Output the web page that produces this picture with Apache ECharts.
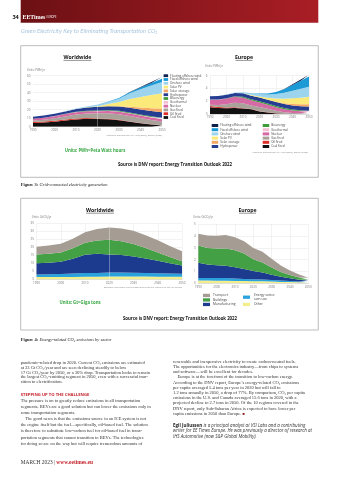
<!DOCTYPE html>
<html><head><meta charset="utf-8">
<script src="https://cdn.jsdelivr.net/npm/echarts@6.0.0/dist/echarts.min.js"></script>
<style>html,body{margin:0;padding:0;background:#fff}#c{width:339px;height:480px}</style>
</head><body><div id="c"></div>
<script>
// ---------- DATA ----------
const years = ['1990','1995','2000','2005','2010','2015','2020','2025','2030','2035','2040','2045','2050'];

// Figure 3 – Worldwide grid-connected electricity generation (PWh/yr)
const wwCoal     = [4.3,4.9,5.9,7.3,8.6,9.3,9.0,8.8,7.6,5.8,4.0,2.6,1.6];
const wwOil      = [1.3,1.3,1.2,1.1,1.0,0.9,0.7,0.6,0.5,0.4,0.3,0.2,0.2];
const wwGas      = [1.7,2.0,2.7,3.6,4.8,5.4,6.0,6.4,6.6,6.4,5.8,5.0,4.2];
const wwNuclear  = [2.0,2.3,2.6,2.8,2.7,2.5,2.6,2.8,2.9,3.0,3.0,3.0,2.9];
const wwGeo      = [0.04,0.04,0.05,0.06,0.07,0.08,0.09,0.12,0.2,0.3,0.4,0.5,0.6];
const wwBio      = [0.1,0.12,0.15,0.25,0.35,0.5,0.65,0.75,0.85,0.95,1.0,1.05,1.1];
const wwHydro    = [2.2,2.4,2.6,2.9,3.4,3.9,4.3,4.6,5.0,5.4,5.8,6.1,6.4];
const wwSolarSt  = [0,0,0,0,0,0,0,0.1,0.5,1.2,2.2,3.3,4.5];
const wwSolar    = [0,0,0,0,0.03,0.25,0.85,2.5,4.8,9.0,12.5,15.5,18];
const wwOnshore  = [0,0,0.03,0.1,0.34,0.8,1.4,2.6,4.0,6.8,9.0,11.2,13];
const wwFixed    = [0,0,0,0,0.01,0.04,0.12,0.3,0.7,1.3,2.1,3.0,4.0];
const wwFloating = [0,0,0,0,0,0,0,0,0.05,0.2,0.6,1.2,2.0];

// Figure 3 – Europe (PWh/yr)
const euCoal     = [1.05,0.95,0.9,0.95,0.85,0.75,0.4,0.25,0.08,0.02,0,0,0];
const euOil      = [0.2,0.15,0.12,0.1,0.07,0.05,0.04,0.03,0.02,0.01,0,0,0];
const euGas      = [0.2,0.3,0.5,0.7,0.75,0.55,0.65,0.55,0.4,0.25,0.15,0.1,0.08];
const euNuclear  = [0.8,0.85,0.9,0.95,0.88,0.8,0.7,0.6,0.55,0.45,0.38,0.32,0.28];
const euGeo      = [0.003,0.004,0.005,0.006,0.006,0.007,0.007,0.01,0.015,0.02,0.03,0.04,0.05];
const euBio      = [0.02,0.03,0.05,0.08,0.13,0.17,0.19,0.2,0.2,0.18,0.15,0.12,0.1];
const euHydro    = [0.5,0.52,0.55,0.5,0.56,0.55,0.6,0.6,0.62,0.63,0.64,0.65,0.65];
const euSolarSt  = [0,0,0,0,0,0,0,0.01,0.05,0.12,0.2,0.28,0.35];
const euSolar    = [0,0,0,0,0.02,0.1,0.17,0.3,0.5,0.7,0.9,1.05,1.2];
const euOnshore  = [0,0.004,0.02,0.07,0.15,0.25,0.36,0.5,0.7,0.95,1.2,1.4,1.55];
const euFixed    = [0,0,0,0,0.01,0.04,0.08,0.15,0.3,0.55,0.9,1.25,1.6];
const euFloating = [0,0,0,0,0,0,0,0,0.01,0.04,0.1,0.2,0.3];

// Figure 4 – Worldwide energy-related CO2 by sector (Gt/yr)
const wwOther     = [1.5,1.5,1.6,1.6,1.7,1.7,1.8,1.8,1.8,1.8,1.7,1.7,1.7];
const wwEnergy    = [1.7,1.8,1.9,2.1,2.3,2.4,2.5,2.5,2.4,2.3,2.2,2.0,1.9];
const wwManuf     = [6.9,7.2,7.6,9.3,11.5,12.0,11.4,11.0,10.2,9.0,7.8,6.5,5.2];
const wwBuildings = [5.6,5.6,5.7,6.5,7.5,8.3,9.2,8.6,7.8,6.6,5.2,3.8,2.6];
const wwTransport = [4.8,5.2,5.6,6.0,6.6,7.2,7.6,8.0,8.2,8.0,7.6,7.0,6.2];

// Figure 4 – Europe (Gt/yr)
const euOther     = [0.23,0.23,0.22,0.22,0.2,0.19,0.18,0.17,0.15,0.12,0.1,0.08,0.06];
const euEnergy    = [0.22,0.22,0.22,0.22,0.2,0.18,0.16,0.15,0.13,0.11,0.09,0.07,0.05];
const euManuf     = [1.3,1.15,1.1,1.05,0.95,0.85,0.7,0.6,0.45,0.33,0.24,0.16,0.1];
const euBuildings = [1.45,1.4,1.4,1.45,1.45,1.3,1.0,0.85,0.6,0.4,0.28,0.18,0.1];
const euTransport = [1.0,1.05,1.1,1.15,1.1,1.05,0.95,0.9,0.75,0.55,0.38,0.25,0.15];

// Legend names
const genNames = ['Floating offshore wind','Fixed offshore wind','Onshore wind','Solar PV','Solar+storage','Hydropower',
                  'Bioenergy','Geothermal','Nuclear','Gas fired','Oil fired','Coal fired'];
const secNames = ['Transport','Buildings','Manufacturing','Energy sector own use','Other'];

// Body text
const leftCol1 = [
 'pandemic-related drop in 2020. Current CO₂ emissions are estimated',
 'at 33 Gt CO₂/year and are seen declining steadily to below',
 '17 Gt CO₂/year by 2050, or a 36% drop. Transportation looks to remain',
 'the largest CO₂-emitting segment in 2050, even with a successful tran-',
 'sition to electrification.'];
const leftCol2 = [
 'The pressure is on to greatly reduce emissions in all transportation',
 'segments. BEVs are a good solution but can lower the emissions only in',
 'some transportation segments.',
 '    The good news is that the emissions source in an ICE system is not',
 'the engine itself but the fuel—specifically, oil-based fuel. The solution',
 'is therefore to substitute low-carbon fuel for oil-based fuel in trans-',
 'portation segments that cannot transition to BEVs. The technologies',
 'for doing so are on the way but will require tremendous amounts of'];
const rightCol1 = [
 'renewable and inexpensive electricity to create carbon-neutral fuels.',
 'The opportunities for the electronics industry—from chips to systems',
 'and software—will be excellent for decades.',
 '    Europe is at the forefront of the transition to low-carbon energy.',
 'According to the DNV report, Europe’s energy-related CO₂ emissions',
 'per capita averaged 5.4 tons per year in 2020 but will fall to',
 '1.2 tons annually in 2050, a drop of 77%. By comparison, CO₂ per capita',
 'emissions in the U.S. and Canada averaged 15.6 tons in 2020, with a',
 'projected decline to 2.7 tons in 2050. Of the 10 regions covered in the',
 'DNV report, only Sub-Saharan Africa is expected to have lower per',
 'capita emissions in 2050 than Europe. {m|■}'];
const bioLines = [
 '{b|Egil Juliussen} {i|is a principal analyst at VSI Labs and a contributing}',
 '{i|writer for EE Times Europe. He was previously a director of research at}',
 '{i|IHS Automotive (now S&P Global Mobility).}'];

// ---------- STYLE ----------
const genColors = {
 'Floating offshore wind':'#0e1f4d','Fixed offshore wind':'#1b9ad6','Onshore wind':'#9cd4ee','Solar PV':'#fbea7a',
 'Solar+storage':'#f5a765','Hydropower':'#253e91','Bioenergy':'#3e9b3a','Geothermal':'#f1bfd2',
 'Nuclear':'#d56aa4','Gas fired':'#a9a29b','Oil fired':'#df2f29','Coal fired':'#111111'};
const secColors = {'Transport':'#a59c93','Buildings':'#44a044','Manufacturing':'#1c3a8e',
 'Energy sector own use':'#2aa2dc','Other':'#f3ee8c'};
const SANS = 'Open Sans, Lato, sans-serif';
const SERIF = 'Liberation Serif, serif';

function area(name, data, color, idx, stack){
  return {type:'line', name, data, stack, xAxisIndex:idx, yAxisIndex:idx, symbol:'none', showSymbol:false,
    lineStyle:{width:0}, itemStyle:{color}, areaStyle:{color, opacity:1}, emphasis:{disabled:true}, z:2};
}
const genStackWW = [['Coal fired',wwCoal],['Oil fired',wwOil],['Gas fired',wwGas],['Nuclear',wwNuclear],['Geothermal',wwGeo],
 ['Bioenergy',wwBio],['Hydropower',wwHydro],['Solar+storage',wwSolarSt],['Solar PV',wwSolar],['Onshore wind',wwOnshore],
 ['Fixed offshore wind',wwFixed],['Floating offshore wind',wwFloating]];
const genStackEU = [['Coal fired',euCoal],['Oil fired',euOil],['Gas fired',euGas],['Nuclear',euNuclear],['Geothermal',euGeo],
 ['Bioenergy',euBio],['Hydropower',euHydro],['Solar+storage',euSolarSt],['Solar PV',euSolar],['Onshore wind',euOnshore],
 ['Fixed offshore wind',euFixed],['Floating offshore wind',euFloating]];
const secStackWW = [['Other',wwOther],['Energy sector own use',wwEnergy],['Manufacturing',wwManuf],['Buildings',wwBuildings],['Transport',wwTransport]];
const secStackEU = [['Other',euOther],['Energy sector own use',euEnergy],['Manufacturing',euManuf],['Buildings',euBuildings],['Transport',euTransport]];

const series = [];
genStackWW.forEach(([n,d])=>series.push(area(n,d,genColors[n],0,'ww3')));
genStackEU.forEach(([n,d])=>series.push(area(n,d,genColors[n],1,'eu3')));
secStackWW.forEach(([n,d])=>series.push(area(n,d,secColors[n],2,'ww4')));
secStackEU.forEach(([n,d])=>series.push(area(n,d,secColors[n],3,'eu4')));
// 2020 boundary between history and forecast
[0,2].forEach(i=>series.push({type:'line', xAxisIndex:i, yAxisIndex:i, data:[], silent:true, z:5,
  markLine:{silent:true, symbol:'none', label:{show:false}, lineStyle:{color:'rgba(255,255,255,0.55)', width:0.6, type:'solid'},
  data:[{xAxis:'2020'}]}}));

const grids = [
 {left:33, top:75.7, width:129, height:51},
 {left:210, top:75.7, width:99, height:38.3},
 {left:36.5, top:223.5, width:145.5, height:56},
 {left:198.3, top:224.3, width:110, height:59}];
const yMax = [60,6,35,5], yInt = [10,2,5,1], vSplit=[false,true,true,true];

const xAxes = grids.map((g,i)=>({type:'category', gridIndex:i, data:years, boundaryGap:false,
  axisTick:{show:false}, axisLine:{lineStyle:{color:'#c8c8c8', width:0.5}},
  axisLabel:{interval:1, fontSize:3, color:'#777', margin:2, fontFamily:SANS},
  splitLine:{show:vSplit[i], interval:1, lineStyle:{color:'#e6e6e6', width:0.5}}}));
const yAxes = grids.map((g,i)=>({type:'value', gridIndex:i, min:0, max:yMax[i], interval:yInt[i],
  axisLine:{show:false}, axisTick:{show:false},
  axisLabel:{fontSize:3, color:'#777', margin:2.5, fontFamily:SANS},
  splitLine:{lineStyle:{color:'#e4e4e4', width:0.5}}}));

function leg(left, top, data, o){
  o=o||{};
  return Object.assign({orient:'vertical', left, top, data, padding:0, selectedMode:false, icon:'rect',
    itemWidth:o.w||4.5, itemHeight:o.h||2.8, itemGap:o.gap||0.8,
    textStyle:{fontSize:o.fs||3, lineHeight:o.lh||3, color:'#444', fontFamily:SANS, padding:[0,0,0,o.pad||-3]}}, o.extra||{});
}
const legends = [
  leg(163.6, 74.2, genNames, {}),
  leg(211.7, 124, genNames.slice(0,6), {w:6.5,h:3,gap:1.2}),
  leg(262.7, 124, genNames.slice(6), {w:6.5,h:3,gap:1.2}),
  leg(203, 293.7, secNames.slice(0,3), {w:7,h:3.3,gap:1,fs:3.3,lh:3.5,pad:-2}),
  leg(243, 293.7, secNames.slice(3), {w:7,h:3.3,gap:2,fs:3.3,lh:3.5,pad:-1,
     extra:{formatter:n=>n==='Energy sector own use'?'Energy sector\nown use':n}})
];

// ---------- GRAPHIC (page furniture & text) ----------
function T(x,y,text,o){
  o=o||{};
  const st={text, x:0, y:0, fill:o.fill||'#333', fontSize:o.fs||4.6, fontFamily:o.ff||SANS,
    fontWeight:o.fw||'normal', fontStyle:o.it?'italic':'normal',
    align:o.align||'left', textAlign:o.align||'left', verticalAlign:'middle', textVerticalAlign:'middle'};
  if(o.rich) st.rich=o.rich;
  return {type:'text', x, y, silent:true, z:100, style:st};
}
function L(x1,y1,x2,y2,c,w){return {type:'line', silent:true, z:100, shape:{x1,y1,x2,y2}, style:{stroke:c||'#222', lineWidth:w||0.5}};}
function R(x,y,w,h,st){return {type:'rect', silent:true, z:0, shape:{x,y,width:w,height:h}, style:st};}

const G = [];
G.push(R(20.7,0,297.6,22.7,{fill:new echarts.graphic.LinearGradient(0,0,1,0,[{offset:0,color:'#6c1014'},{offset:1,color:'#a91e25'}])}));
G.push(T(12.4,17.4,'34',{fs:5.6,fw:'bold',fill:'#111'}));
G.push(T(22.6,17.4,'{a|EETimes} {b|EUROPE}',{rich:{a:{fontSize:5.8,fontFamily:SERIF,fontWeight:'bold',fill:'#fff'},b:{fontSize:2.6,fontFamily:SANS,fill:'#fff'}}}));
G.push(T(20.7,31,'Green Electricity Key to Eliminating Transportation CO₂',{fs:6,it:true,fill:'#a8c6de',ff:'Lato, sans-serif'}));

// Figure 3 frame
G.push(R(20.7,45.7,297.6,131.6,{fill:'none',stroke:'#b4b4b4',lineWidth:0.9}));
G.push(T(77.5,57.6,'Worldwide',{fs:5.2,fw:'bold',align:'center',fill:'#111'}));
G.push(L(63.5,60.4,91.5,60.4,'#111',0.45));
G.push(T(244,57.6,'Europe',{fs:5.2,fw:'bold',align:'center',fill:'#111'}));
G.push(L(235.5,60.4,252.5,60.4,'#111',0.45));
G.push(T(27,70.3,'Units: PWh/yr',{fs:2.8,fill:'#777'}));
G.push(T(205,66.6,'Units: PWh/yr',{fs:2.8,fill:'#777'}));
G.push(T(162,135,'Historical data source: IEA WEB (2022), Ember (2022)',{fs:2.3,fill:'#888',align:'right'}));
G.push(T(308,152.3,'Historical data source: IEA WEB (2022), Ember (2022)',{fs:2.3,fill:'#888',align:'right'}));
G.push(T(95,151,'Units: PWh=Peta Watt hours',{fs:4.3,fw:'bold',fill:'#3aa846',align:'center'}));
G.push(T(118,164.3,'Source is DNV report: Energy Transition Outlook 2022',{fs:4.3,fw:'bold',fill:'#111'}));
G.push(T(20.7,185.2,'{b|Figure 3:} {i|Grid-connected electricity generation}',{rich:{b:{fontSize:4.5,fontFamily:SERIF,fontWeight:'bold',fill:'#222'},i:{fontSize:4.5,fontFamily:SERIF,fontStyle:'italic',fill:'#222'}}}));

// Figure 4 frame
G.push(R(20.7,198.3,297.6,131.7,{fill:'none',stroke:'#b4b4b4',lineWidth:0.9}));
G.push(T(100,210.4,'Worldwide',{fs:5.2,fw:'bold',align:'center',fill:'#111'}));
G.push(L(86,213.2,114,213.2,'#111',0.45));
G.push(T(247.5,210.4,'Europe',{fs:5.2,fw:'bold',align:'center',fill:'#111'}));
G.push(L(239,213.2,256,213.2,'#111',0.45));
G.push(T(31.7,217.5,'Units: GtCO₂/yr',{fs:2.8,fill:'#777'}));
G.push(T(193.3,217.5,'Units: GtCO₂/yr',{fs:2.8,fill:'#777'}));
G.push(T(182,287.7,'Emissions from power and hydrogen generation are allocated to end-use sectors',{fs:2.1,fill:'#888',align:'right'}));
G.push(T(80,302.3,'Units: Gt=Giga tons',{fs:4.3,fw:'bold',fill:'#3aa846',align:'center'}));
G.push(T(123,319.2,'Source is DNV report: Energy Transition Outlook 2022',{fs:4.3,fw:'bold',fill:'#111'}));
G.push(T(20.7,339.4,'{b|Figure 4:} {i|Energy-related CO₂ emissions by sector}',{rich:{b:{fontSize:4.5,fontFamily:SERIF,fontWeight:'bold',fill:'#222'},i:{fontSize:4.5,fontFamily:SERIF,fontStyle:'italic',fill:'#222'}}}));

// Body text
const bodyOpt = {fs:4.5, ff:SERIF, fill:'#333'};
leftCol1.forEach((s,i)=>G.push(T(20.7, 362.7+i*4.85, s, bodyOpt)));
G.push(T(20.7,395,'STEPPING UP TO THE CHALLENGE',{fs:4.2,fw:'bold',fill:'#c4232b'}));
const leftY2 = [401,407,413,419.3,425.3,431.3,437.5,443.8];
leftCol2.forEach((s,i)=>G.push(T(20.7, leftY2[i], s, bodyOpt)));
rightCol1.forEach((s,i)=>G.push(T(173, 361.6+i*5.2, s, Object.assign({rich:{m:{fontSize:4,fill:'#8b1a1a'}}},bodyOpt))));
const bioRich = {b:{fontSize:4.5,fontFamily:SANS,fontWeight:'bold',fill:'#222'},i:{fontSize:4.5,fontFamily:SANS,fontStyle:'italic',fill:'#333'}};
bioLines.forEach((s,i)=>G.push(T(173, 425.7+i*5.3, s, {rich:bioRich})));
G.push(T(20.7,462.4,'{a|MARCH 2023 | }{b|www.eetimes.eu}',{rich:{a:{fontSize:5.4,fontFamily:SERIF,fill:'#333'},b:{fontSize:5.4,fontFamily:SERIF,fontWeight:'bold',fill:'#c4232b'}}}));

const chart = echarts.init(document.getElementById('c'), null, {renderer:'canvas'});
chart.setOption({
  animation:false, backgroundColor:'#fff',
  grid:grids, xAxis:xAxes, yAxis:yAxes, legend:legends, series, graphic:{elements:G}
});
</script></body></html>
